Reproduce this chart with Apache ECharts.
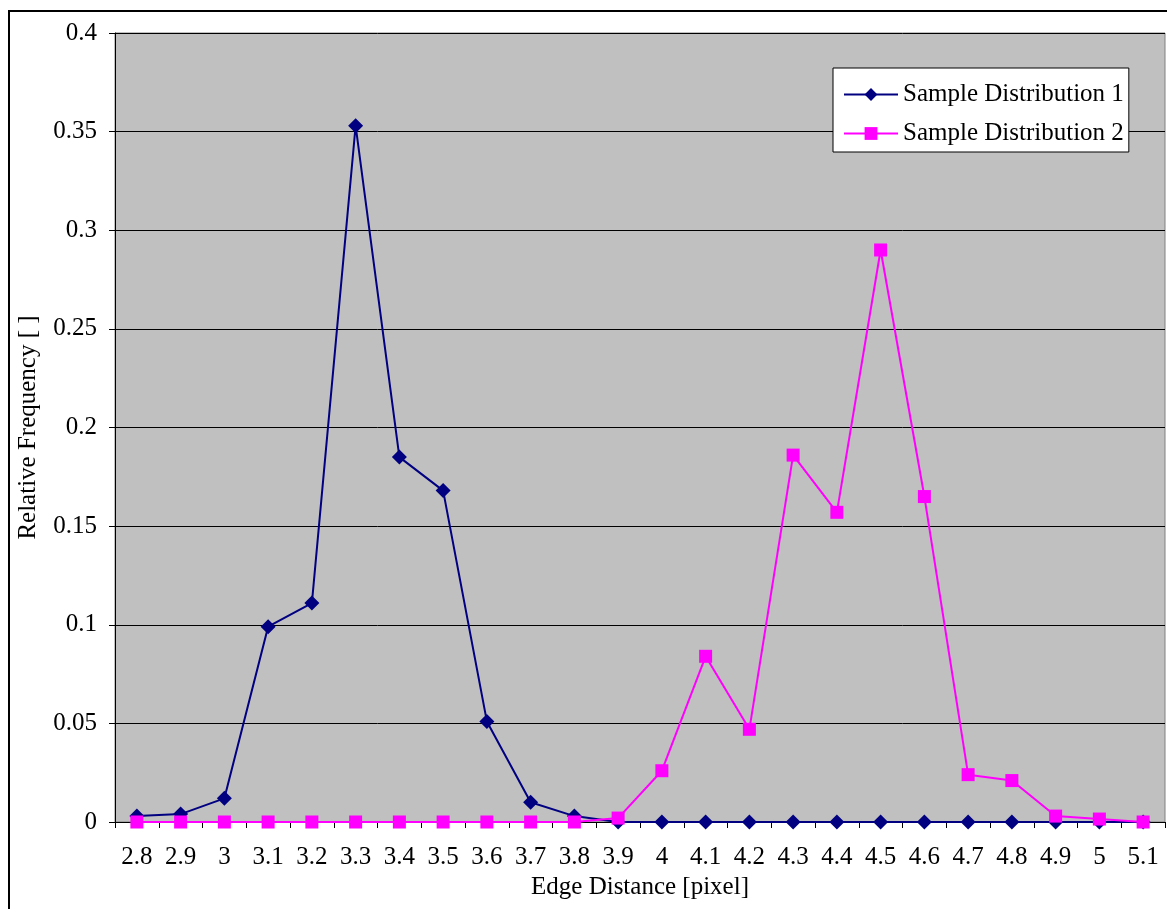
<!DOCTYPE html>
<html>
<head>
<meta charset="utf-8">
<style>
  html, body { margin: 0; padding: 0; background: #fff; }
  #chart { width: 1167px; height: 909px; }
</style>
<script src="https://cdn.jsdelivr.net/npm/echarts@6/dist/echarts.min.js"></script>
</head>
<body>
<div id="chart"></div>
<script>
// Edge distance bins (pixel)
const categories = ['2.8','2.9','3','3.1','3.2','3.3','3.4','3.5','3.6','3.7','3.8','3.9',
                    '4','4.1','4.2','4.3','4.4','4.5','4.6','4.7','4.8','4.9','5','5.1'];

// Relative frequency per bin
const dist1 = [0.003, 0.004, 0.012, 0.099, 0.111, 0.353, 0.185, 0.168, 0.051, 0.010, 0.003, 0.0,
               0, 0, 0, 0, 0, 0, 0, 0, 0, 0, 0, 0];
const dist2 = [0, 0, 0, 0, 0, 0, 0, 0, 0, 0, 0, 0.002,
               0.026, 0.084, 0.047, 0.186, 0.157, 0.290, 0.165, 0.024, 0.021, 0.003, 0.0015, 0.0];

const seriesNames = ['Sample Distribution 1', 'Sample Distribution 2'];
const yTicks = { min: 0, max: 0.4, interval: 0.05 };

const FONT = '"Liberation Serif", "Times New Roman", serif';
const FS = 25;
const chart = echarts.init(document.getElementById('chart'), null, { renderer: 'canvas' });

chart.setOption({
  animation: false,
  backgroundColor: '#fff',
  textStyle: { fontFamily: FONT, color: '#000' },
  graphic: [
    // outer chart frame
    { type: 'rect', shape: { x: 9, y: 11, width: 1200, height: 950 },
      style: { fill: 'none', stroke: '#000', lineWidth: 2 }, z: 0 },
    // plot area fill and border
    { type: 'rect', shape: { x: 115, y: 33, width: 1050, height: 789 },
      style: { fill: '#C0C0C0', stroke: '#808080', lineWidth: 1 }, z: 0 }
  ],
  grid: { left: 115, top: 33, right: 2, bottom: 87, containLabel: false },
  legend: {
    data: seriesNames,
    orient: 'vertical',
    left: 833, top: 68,
    backgroundColor: '#fff',
    borderColor: '#000',
    borderWidth: 1,
    padding: [14, 5, 6, 10],
    itemWidth: 54,
    itemHeight: 16,
    itemGap: 14,
    textStyle: { fontFamily: FONT, fontSize: FS, color: '#000' }
  },
  xAxis: {
    type: 'category',
    data: categories,
    boundaryGap: true,
    name: 'Edge Distance [pixel]',
    nameLocation: 'middle',
    nameGap: 52,
    nameTextStyle: { fontFamily: FONT, fontSize: FS, color: '#000' },
    axisLine: { onZero: false, lineStyle: { color: '#000', width: 1 } },
    axisTick: { show: true, length: 6, alignWithLabel: false, interval: 0, lineStyle: { color: '#000' } },
    axisLabel: { interval: 0, margin: 23, fontFamily: FONT, fontSize: FS, color: '#000' },
    splitLine: { show: false }
  },
  yAxis: {
    type: 'value',
    min: yTicks.min, max: yTicks.max, interval: yTicks.interval,
    name: 'Relative Frequency [ ]',
    nameLocation: 'middle',
    nameGap: 74,
    nameRotate: 90,
    nameTextStyle: { fontFamily: FONT, fontSize: FS, color: '#000' },
    axisLine: { show: true, lineStyle: { color: '#000', width: 1 } },
    axisTick: { show: true, length: 6, lineStyle: { color: '#000' } },
    axisLabel: { margin: 18, fontFamily: FONT, fontSize: FS, color: '#000' },
    splitLine: { show: true, lineStyle: { color: '#000', width: 1 } }
  },
  series: [
    {
      name: seriesNames[0],
      type: 'line',
      data: dist1,
      symbol: 'diamond',
      symbolSize: 15,
      lineStyle: { color: '#000080', width: 2 },
      itemStyle: { color: '#000080' },
      z: 3
    },
    {
      name: seriesNames[1],
      type: 'line',
      data: dist2,
      symbol: 'rect',
      symbolSize: 13,
      lineStyle: { color: '#FF00FF', width: 2 },
      itemStyle: { color: '#FF00FF' },
      z: 4
    }
  ]
});
</script>
</body>
</html>
